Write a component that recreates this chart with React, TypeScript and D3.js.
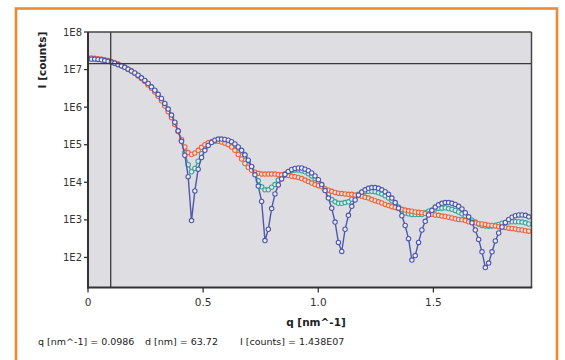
import React from "react";
import * as d3 from "d3";

// q sampling grid [nm^-1]
const qStart = 0;
const qStep = 0.0145;

// log10(I [counts]) x 100, one value per measured q point
const blueLog = [
  729, 728, 728, 727, 726, 724, 722, 720, 717, 713, 710, 706, 701, 696, 691, 685, 678, 671, 663,
  654, 645, 634, 623, 610, 595, 579, 560, 537, 509, 472, 415, 298, 377, 435, 466, 485, 498, 506,
  512, 515, 515, 514, 512, 508, 502, 494, 485, 473, 459, 442, 420, 390, 349, 245, 275, 330, 369,
  393, 409, 421, 429, 434, 437, 438, 438, 435, 431, 425, 417, 407, 394, 378, 358, 331, 294, 240,
  216, 275, 312, 336, 353, 366, 374, 380, 384, 386, 386, 384, 380, 375, 368, 358, 346, 331, 311,
  285, 250, 193, 205, 240, 273, 296, 313, 325, 334, 340, 344, 346, 346, 344, 341, 336, 329, 319,
  308, 292, 273, 248, 215, 173, 185, 215, 244, 265, 281, 293, 301, 307, 311, 313, 313, 312, 308,
];
const tealLog = [
  729, 729, 728, 727, 726, 724, 722, 720, 717, 714, 710, 706, 701, 696, 690, 684, 677, 670, 662,
  653, 643, 633, 621, 608, 593, 577, 558, 536, 510, 479, 447, 428, 437, 456, 476, 490, 500, 507,
  511, 513, 513, 512, 509, 504, 498, 490, 481, 470, 457, 441, 424, 404, 388, 380, 380, 387, 394,
  406, 416, 423, 428, 431, 433, 433, 431, 428, 423, 417, 410, 401, 391, 379, 367, 354, 348, 344,
  344, 346, 348, 355, 362, 368, 372, 375, 376, 376, 375, 372, 369, 364, 358, 351, 343, 334, 326,
  318, 316, 314, 314, 314, 314, 319, 323, 326, 329, 331, 331, 332, 330, 328, 325, 321, 316, 311,
  305, 299, 294, 289, 285, 284, 283, 284, 286, 288, 291, 293, 294, 295, 295, 295, 294, 292, 289,
];
const redLog = [
  731, 731, 730, 729, 728, 726, 724, 721, 718, 715, 711, 706, 701, 696, 690, 683, 676, 668, 659,
  650, 640, 629, 617, 603, 588, 572, 554, 535, 514, 494, 479, 474, 478, 485, 493, 500, 505, 508,
  509, 509, 507, 504, 500, 494, 485, 474, 462, 450, 440, 432, 427, 424, 422, 422, 422, 422, 422,
  421, 420, 419, 418, 416, 415, 413, 410, 406, 402, 398, 394, 391, 388, 383, 379, 376, 373, 371,
  370, 369, 368, 368, 366, 365, 363, 360, 358, 354, 351, 348, 345, 341, 338, 335, 333, 330, 328,
  326, 324, 323, 321, 320, 319, 317, 316, 315, 313, 312, 310, 309, 307, 305, 303, 301, 300, 298,
  295, 294, 292, 290, 289, 288, 286, 285, 284, 282, 281, 280, 278, 277, 276, 274, 273, 271, 270,
];

const xTicks = [0, 0.5, 1.0, 1.5];
const xTickLabels = ["0", "0.5", "1.0", "1.5"];
const yTicks = [1e2, 1e3, 1e4, 1e5, 1e6, 1e7, 1e8];
const yTickLabels = ["1E2", "1E3", "1E4", "1E5", "1E6", "1E7", "1E8"];
const cursorQ = 0.0986;
const cursorI = 1.438e7;
const readout = ["q [nm^-1] = 0.0986", "d [nm] = 63.72", "I [counts] = 1.438E07"];

const W = 565, H = 360;
const M = { left: 88, right: 531.5, top: 32, bottom: 287.5 };

export default function App() {
  const x = d3.scaleLinear().domain([0, 1.926]).range([M.left, M.right]);
  const y = d3.scaleLog().domain([Math.pow(10, 1.2), 1e8]).range([M.bottom, M.top]);
  const toPts = (arr: number[]) => arr.map((v, i) => ({ q: qStart + i * qStep, I: Math.pow(10, v / 100) }));
  const line = d3.line<{ q: number; I: number }>().x((d) => x(d.q)).y((d) => y(d.I));
  const series = [
    { data: toPts(tealLog), color: "#3aa597", fill: "#d9ece8" },
    { data: toPts(redLog), color: "#ea6440", fill: "#f3ddd5" },
    { data: toPts(blueLog), color: "#4e57ad", fill: "#eceef6" },
  ];
  return (
    <svg width={W} height={H} style={{ position: "absolute", left: 0, top: 0, background: "#fff" }}
      fontFamily="'DejaVu Sans', Verdana, sans-serif">
      <defs>
        <clipPath id="clip"><rect x={M.left} y={M.top} width={M.right - M.left} height={M.bottom - M.top} /></clipPath>
      </defs>
      <rect x={16} y={8.5} width={541} height={400} fill="none" stroke="#f6872a" strokeWidth={2.6} />
      <rect x={M.left} y={M.top} width={M.right - M.left} height={M.bottom - M.top} fill="#dedee2" />
      <g clipPath="url(#clip)">
        {series.map((s, si) => (
          <g key={si}>
            <path d={line(s.data) || ""} fill="none" stroke={s.color} strokeWidth={1.4} />
            {s.data.map((d, i) => (
              <circle key={i} cx={x(d.q)} cy={y(d.I)} r={2.2} fill={s.fill} stroke={s.color} strokeWidth={1.1} />
            ))}
          </g>
        ))}
      </g>
      <line x1={x(cursorQ)} x2={x(cursorQ)} y1={M.top} y2={M.bottom} stroke="#3a3a3a" strokeWidth={1.3} />
      <line x1={M.left} x2={M.right} y1={y(cursorI)} y2={y(cursorI)} stroke="#3a3a3a" strokeWidth={1.3} />
      <line x1={M.left} x2={M.right} y1={M.top} y2={M.top} stroke="#444" strokeWidth={1.5} />
      <line x1={M.right} x2={M.right} y1={M.top} y2={M.bottom} stroke="#444" strokeWidth={1.5} />
      <line x1={M.left} x2={M.left} y1={M.top} y2={M.bottom + 1} stroke="#333" strokeWidth={2} />
      <line x1={M.left - 1} x2={M.right + 0.75} y1={M.bottom} y2={M.bottom} stroke="#333" strokeWidth={2} />
      {yTicks.map((t, i) => (
        <g key={t}>
          <line x1={M.left - 4} x2={M.left} y1={y(t)} y2={y(t)} stroke="#333" strokeWidth={1.3} />
          <text x={M.left - 6} y={y(t) + 3.5} fontSize={10} textAnchor="end" fill="#333">{yTickLabels[i]}</text>
        </g>
      ))}
      {xTicks.map((t, i) => (
        <g key={t}>
          <line x1={x(t)} x2={x(t)} y1={M.bottom} y2={M.bottom + 5} stroke="#333" strokeWidth={1.3} />
          <text x={x(t)} y={306} fontSize={10.5} textAnchor="middle" fill="#333">{xTickLabels[i]}</text>
        </g>
      ))}
      <text x={316} y={326} fontSize={10.5} fontWeight="bold" textAnchor="middle" fill="#222">q [nm^-1]</text>
      <text transform="translate(46,60) rotate(-90)" fontSize={10.5} fontWeight="bold" textAnchor="middle" fill="#222">I [counts]</text>
      <text x={38} y={345} fontSize={9.5} fill="#222">{readout[0]}</text>
      <text x={145} y={345} fontSize={9.5} fill="#222">{readout[1]}</text>
      <text x={240} y={345} fontSize={9.5} fill="#222">{readout[2]}</text>
    </svg>
  );
}
